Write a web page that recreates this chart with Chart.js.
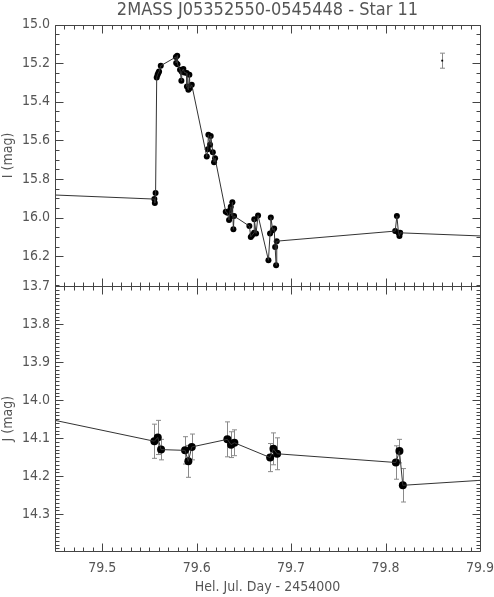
<!DOCTYPE html>
<html>
<head>
<meta charset="utf-8">
<script src="https://cdn.jsdelivr.net/npm/chart.js@4"></script>
<style>
html, body { margin: 0; background: #fff; }
</style>
</head>
<body>
<canvas id="lc" width="494" height="597"></canvas>
<script>
// I band (top panel)
const iDays = [79.5552, 79.5557, 79.5565, 79.5577, 79.5586, 79.5594, 79.5602, 79.5620,
  79.5780, 79.5783, 79.5794, 79.5797, 79.5824, 79.5838, 79.5842, 79.5859, 79.5870,
  79.5895, 79.5897, 79.5912, 79.5923, 79.5930, 79.5948,
  79.6107, 79.6118, 79.6124, 79.6142, 79.6149, 79.6171, 79.6184, 79.6195,
  79.6308, 79.6325, 79.6343, 79.6354, 79.6361, 79.6372, 79.6378, 79.6389, 79.6396,
  79.6558, 79.6573, 79.6587, 79.6608, 79.6610, 79.6629, 79.6650,
  79.6760, 79.6777, 79.6785, 79.6806, 79.6820, 79.6831, 79.6841, 79.6848,
  79.8102, 79.8120, 79.8137, 79.8147, 79.8155];
const iMag = [15.904, 15.925, 15.873, 15.274, 15.260, 15.251, 15.243, 15.213,
  15.168, 15.199, 15.161, 15.206, 15.234, 15.291, 15.244, 15.230, 15.248,
  15.251, 15.321, 15.338, 15.260, 15.329, 15.312,
  15.684, 15.646, 15.571, 15.623, 15.577, 15.661, 15.713, 15.692,
  15.970, 15.975, 16.013, 15.961, 15.944, 15.992, 15.921, 16.061, 15.992,
  16.044, 16.100, 16.091, 16.079, 16.008, 16.082, 15.989,
  16.221, 16.082, 15.999, 16.065, 16.056, 16.152, 16.247, 16.122,
  16.070, 15.992, 16.079, 16.096, 16.079];
// where the connecting line meets the frame
const iEdgeDays = [79.45, 79.90];
const iEdgeMag = [15.883, 16.095];
// typical error bar shown in the corner
const refDay = [79.860];
const refMag = [15.187];
const refErr = [0.039];

// J band (bottom panel)
const jDays = [79.5552, 79.5588, 79.5623, 79.5877, 79.5912, 79.5948, 79.6325, 79.6364,
  79.6399, 79.6778, 79.6813, 79.6852, 79.8109, 79.8147, 79.8183];
const jMag = [14.108, 14.098, 14.130, 14.132, 14.161, 14.123, 14.103, 14.117,
  14.112, 14.151, 14.128, 14.141, 14.164, 14.134, 14.224];
const jErr = [0.045, 0.045, 0.027, 0.036, 0.042, 0.034, 0.046, 0.034,
  0.034, 0.037, 0.042, 0.042, 0.044, 0.031, 0.044];
const jEdgeDays = [79.45, 79.90];
const jEdgeMag = [14.053, 14.211];

const xTicks = [79.5, 79.6, 79.7, 79.8, 79.9];
const iTicks = [15.0, 15.2, 15.4, 15.6, 15.8, 16.0, 16.2];
const jTicks = [13.7, 13.8, 13.9, 14.0, 14.1, 14.2, 14.3];

const txt = '#555';
const fontFam = '"DejaVu Sans Condensed", "DejaVu Sans", sans-serif';

const pts = (d, m) => d.map((v, k) => ({ x: v, y: m[k] }));
const withEdges = (d, m, ed, em) =>
  [{ x: ed[0], y: em[0] }, ...pts(d, m), { x: ed[1], y: em[1] }];

function drawErr(ctx, xs, ys, days, mags, errs, cap) {
  ctx.beginPath();
  days.forEach((d, k) => {
    const px = Math.round(xs.getPixelForValue(d)) + 0.5;
    const y1 = ys.getPixelForValue(mags[k] - errs[k]);
    const y2 = ys.getPixelForValue(mags[k] + errs[k]);
    ctx.moveTo(px, y1); ctx.lineTo(px, y2);
    ctx.moveTo(px - cap, y1); ctx.lineTo(px + cap, y1);
    ctx.moveTo(px - cap, y2); ctx.lineTo(px + cap, y2);
  });
  ctx.stroke();
}

const errPlugin = {
  id: 'errBars',
  beforeDatasetsDraw(chart) {
    const ctx = chart.ctx, xs = chart.scales.x;
    ctx.save();
    ctx.lineWidth = 1;
    ctx.strokeStyle = '#8a8a8a';
    drawErr(ctx, xs, chart.scales.yJ, jDays, jMag, jErr, 2.5);
    drawErr(ctx, xs, chart.scales.yI, refDay, refMag, refErr, 2.5);
    ctx.restore();
  }
};

// inward ticks on all four sides of each panel, IDL style
const framePlugin = {
  id: 'frameTicks',
  afterDraw(chart) {
    const ctx = chart.ctx, xs = chart.scales.x;
    const l = Math.round(xs.left) + 0.5, r = Math.round(xs.right) + 0.5;
    ctx.save();
    ctx.strokeStyle = '#444';
    ctx.lineWidth = 1;
    const panels = [
      { s: chart.scales.yI, k0: 300, k1: 327, div: 20, every: 4 },
      { s: chart.scales.yJ, k0: 1370, k1: 1439, div: 100, every: 10 }
    ];
    panels.forEach(p => {
      const t = Math.round(p.s.top) + 0.5, b = Math.round(p.s.bottom) + 0.5;
      ctx.beginPath();
      ctx.rect(l, t, r - l, b - t);
      for (let k = 7945; k <= 7990; k++) {
        const px = Math.round(xs.getPixelForValue(k / 100)) + 0.5;
        const len = k % 10 === 0 ? 8 : 4;
        ctx.moveTo(px, t); ctx.lineTo(px, t + len);
        ctx.moveTo(px, b); ctx.lineTo(px, b - len);
      }
      for (let k = p.k0; k <= p.k1; k++) {
        const py = Math.round(p.s.getPixelForValue(k / p.div)) + 0.5;
        const len = k % p.every === 0 ? 8 : 4;
        ctx.moveTo(l, py); ctx.lineTo(l + len, py);
        ctx.moveTo(r, py); ctx.lineTo(r - len, py);
      }
      ctx.stroke();
    });
    ctx.restore();
  }
};

const fix1 = v => Number(v).toFixed(1);
const noGrid = { display: false, drawTicks: false };
const fitY = s => { s.width = 55; s.paddingTop = 0; s.paddingBottom = 0; };

new Chart(document.getElementById('lc'), {
  type: 'line',
  data: {
    datasets: [
      { data: withEdges(iDays, iMag, iEdgeDays, iEdgeMag), yAxisID: 'yI',
        borderColor: '#333', borderWidth: 1, pointRadius: 0, fill: false },
      { type: 'scatter', data: pts(iDays, iMag), yAxisID: 'yI',
        pointRadius: 3, backgroundColor: '#000', borderColor: '#000', borderWidth: 0 },
      { type: 'scatter', data: pts(refDay, refMag), yAxisID: 'yI', pointStyle: 'rect',
        pointRadius: 1.3, backgroundColor: '#000', borderColor: '#000', borderWidth: 0 },
      { data: withEdges(jDays, jMag, jEdgeDays, jEdgeMag), yAxisID: 'yJ',
        borderColor: '#333', borderWidth: 1, pointRadius: 0, fill: false },
      { type: 'scatter', data: pts(jDays, jMag), yAxisID: 'yJ',
        pointRadius: 4, backgroundColor: '#000', borderColor: '#000', borderWidth: 0 }
    ]
  },
  options: {
    responsive: false,
    animation: false,
    devicePixelRatio: 1,
    layout: { padding: { left: 0, right: 14, top: 0, bottom: 0 } },
    plugins: {
      legend: { display: false },
      tooltip: { enabled: false },
      title: {
        display: true,
        fullSize: false,
        text: '2MASS J05352550-0545448 - Star 11',
        color: txt,
        font: { family: fontFam, size: 18, weight: 'normal' },
        padding: { top: 0, bottom: 3 }
      }
    },
    scales: {
      x: {
        type: 'linear', min: 79.45, max: 79.9,
        grid: noGrid, border: { display: false },
        afterBuildTicks: s => { s.ticks = xTicks.map(v => ({ value: v })); },
        afterFit: s => { s.height = 46; s.paddingLeft = 0; s.paddingRight = 0; },
        ticks: { color: txt, padding: 9, maxRotation: 0, font: { family: fontFam, size: 14 }, callback: fix1 },
        title: { display: true, text: 'Hel. Jul. Day - 2454000', color: txt,
          font: { family: fontFam, size: 14 }, padding: { top: 0, bottom: 1 } }
      },
      yJ: {
        type: 'linear', position: 'left', stack: 'mag', stackWeight: 265,
        reverse: true, min: 13.7, max: 14.397,
        grid: noGrid, border: { display: false },
        afterBuildTicks: s => { s.ticks = jTicks.map(v => ({ value: v })); },
        afterFit: fitY,
        ticks: { color: txt, padding: 5, font: { family: fontFam, size: 14 }, callback: fix1 },
        title: { display: true, text: 'J (mag)', color: txt,
          font: { family: fontFam, size: 14 }, padding: { top: 0, bottom: 0 } }
      },
      yI: {
        type: 'linear', position: 'left', stack: 'mag', stackWeight: 262,
        reverse: true, min: 15.0, max: 16.356,
        grid: noGrid, border: { display: false },
        afterBuildTicks: s => { s.ticks = iTicks.map(v => ({ value: v })); },
        afterFit: fitY,
        ticks: { color: txt, padding: 5, font: { family: fontFam, size: 14 }, callback: fix1 },
        title: { display: true, text: 'I (mag)', color: txt,
          font: { family: fontFam, size: 14 }, padding: { top: 0, bottom: 0 } }
      }
    }
  },
  plugins: [errPlugin, framePlugin]
});
</script>
</body>
</html>
